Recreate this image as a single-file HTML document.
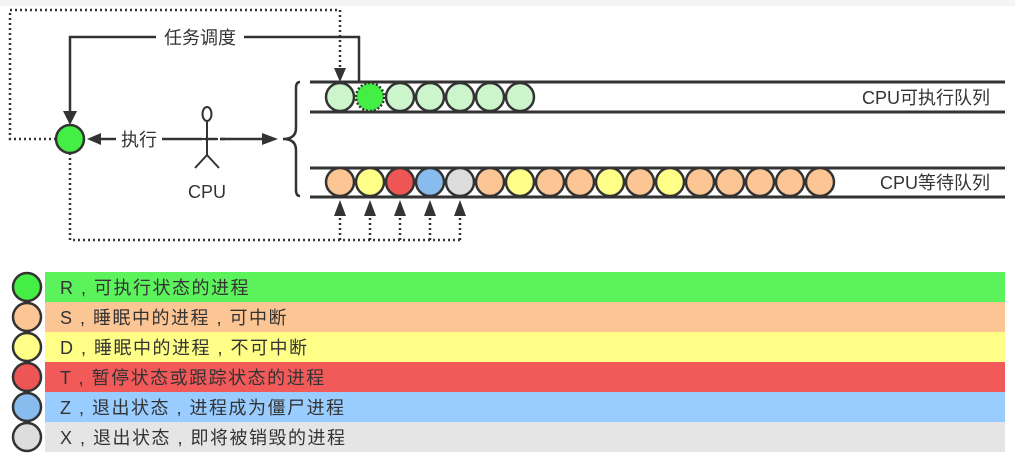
<!DOCTYPE html>
<html><head><meta charset="utf-8"><style>
html,body{margin:0;padding:0;background:#fff;}
body{width:1015px;height:465px;overflow:hidden;font-family:"Liberation Sans","Noto Sans CJK SC",sans-serif;}
</style></head><body>
<svg width="1015" height="465" viewBox="0 0 1015 465" xmlns="http://www.w3.org/2000/svg" font-family="Liberation Sans, Noto Sans CJK SC, sans-serif">
<rect x="0" y="0" width="1015" height="6" fill="#f4f4f4"/>
<g stroke="#333" stroke-width="2.5" fill="none">
<path d="M56,139 H10 V10 H340 V70" stroke-dasharray="2,3"/>
<path d="M70,153 V240 H460" stroke-dasharray="2,3"/>
<path d="M340,240 V218 M370,240 V218 M400,240 V218 M430,240 V218 M460,240 V218" stroke-dasharray="2,3"/>
<path d="M359,83 V37 H244 M156,37 H70 V112"/>
<path d="M190,139 H162 M116,139 H100"/>
<path d="M220,139 H262"/>
<path d="M300,82 Q296,82 296,88 V128 Q296,139 283,139 Q296,139 296,150 V190 Q296,196 300,196"/>
<path d="M310,82 H1005 M310,112 H1005 M310,168 H1005 M310,197 H1005" stroke-width="3"/>
</g>
<g fill="#333">
<path d="M334,68 L346,68 L340,82 z"/>
<path d="M63,111 L77,111 L70,125 z"/>
<path d="M101,133 L101,145 L87,139 z"/>
<path d="M262,133 L262,145 L278,139 z"/>
<path d="M334,216 L346,216 L340,200 z"/>
<path d="M364,216 L376,216 L370,200 z"/>
<path d="M394,216 L406,216 L400,200 z"/>
<path d="M424,216 L436,216 L430,200 z"/>
<path d="M454,216 L466,216 L460,200 z"/>
</g>
<g stroke="#333" stroke-width="2" fill="none">
<ellipse cx="207" cy="114" rx="4.5" ry="7"/>
<path d="M207,121 V155 M196,139 H218 M207,155 L195,168 M207,155 L219,168"/>
</g>
<line x1="190" y1="139" x2="225" y2="139" stroke="#333" stroke-width="2.5" stroke-dasharray="12,3"/>
<text x="207" y="198" font-size="18" text-anchor="middle" fill="#333">CPU</text>
<text x="200" y="44" font-size="18" text-anchor="middle" fill="#333">任务调度</text>
<text x="139" y="146" font-size="18" text-anchor="middle" fill="#333">执行</text>
<circle cx="70" cy="139" r="14" fill="#44ee44" stroke="#333" stroke-width="2.5"/>
<g stroke="#333" stroke-width="2.5">
<circle cx="340" cy="97" r="14" fill="#ccf5cc"/>
<circle cx="370" cy="97" r="14" fill="#44ee44" stroke-dasharray="2,2"/>
<circle cx="400" cy="97" r="14" fill="#ccf5cc"/>
<circle cx="430" cy="97" r="14" fill="#ccf5cc"/>
<circle cx="460" cy="97" r="14" fill="#ccf5cc"/>
<circle cx="490" cy="97" r="14" fill="#ccf5cc"/>
<circle cx="520" cy="97" r="14" fill="#ccf5cc"/>
</g>
<g stroke="#333" stroke-width="2.5">
<circle cx="340" cy="182" r="14" fill="#fcc594"/>
<circle cx="370" cy="182" r="14" fill="#ffff88"/>
<circle cx="400" cy="182" r="14" fill="#ee5555"/>
<circle cx="430" cy="182" r="14" fill="#88bbee"/>
<circle cx="460" cy="182" r="14" fill="#dddddd"/>
<circle cx="490" cy="182" r="14" fill="#fcc594"/>
<circle cx="520" cy="182" r="14" fill="#ffff88"/>
<circle cx="550" cy="182" r="14" fill="#fcc594"/>
<circle cx="580" cy="182" r="14" fill="#fcc594"/>
<circle cx="610" cy="182" r="14" fill="#ffff88"/>
<circle cx="640" cy="182" r="14" fill="#fcc594"/>
<circle cx="670" cy="182" r="14" fill="#ffff88"/>
<circle cx="700" cy="182" r="14" fill="#fcc594"/>
<circle cx="730" cy="182" r="14" fill="#fcc594"/>
<circle cx="760" cy="182" r="14" fill="#fcc594"/>
<circle cx="790" cy="182" r="14" fill="#fcc594"/>
<circle cx="820" cy="182" r="14" fill="#fcc594"/>
</g>
<text x="990" y="104" font-size="18" text-anchor="end" fill="#333">CPU可执行队列</text>
<text x="990" y="189" font-size="18" text-anchor="end" fill="#333">CPU等待队列</text>
<rect x="45" y="272" width="960" height="30" fill="#5cf25c"/>
<rect x="45" y="302" width="960" height="30" fill="#fcc594"/>
<rect x="45" y="332" width="960" height="30" fill="#ffff88"/>
<rect x="45" y="362" width="960" height="30" fill="#f25a5a"/>
<rect x="45" y="392" width="960" height="30" fill="#99ccff"/>
<rect x="45" y="422" width="960" height="30" fill="#e5e5e5"/>
<g stroke="#333" stroke-width="2.5">
<circle cx="27" cy="287" r="14" fill="#44ee44"/>
<circle cx="27" cy="317" r="14" fill="#fcc594"/>
<circle cx="27" cy="347" r="14" fill="#ffff88"/>
<circle cx="27" cy="377" r="14" fill="#ee5555"/>
<circle cx="27" cy="407" r="14" fill="#88bbee"/>
<circle cx="27" cy="437" r="14" fill="#dddddd"/>
</g>
<g font-size="18" fill="#333" letter-spacing="1.5">
<text x="60" y="294">R , 可执行状态的进程</text>
<text x="60" y="324">S , 睡眠中的进程 , 可中断</text>
<text x="60" y="354">D , 睡眠中的进程 , 不可中断</text>
<text x="60" y="384">T , 暂停状态或跟踪状态的进程</text>
<text x="60" y="414">Z , 退出状态 , 进程成为僵尸进程</text>
<text x="60" y="444">X , 退出状态 , 即将被销毁的进程</text>
</g>
</svg>
</body></html>
